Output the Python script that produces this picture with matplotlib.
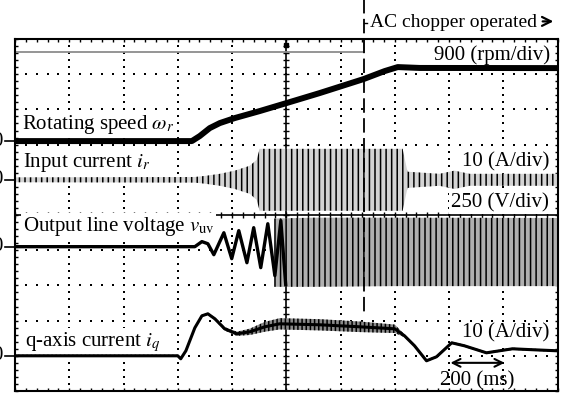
import matplotlib
matplotlib.use('Agg')
import matplotlib.pyplot as plt
import numpy as np

plt.rcParams['font.family'] = ['Liberation Serif', 'DejaVu Serif']
plt.rcParams['mathtext.fontset'] = 'stix'
plt.rcParams['hatch.linewidth'] = 1.1

# channel zero levels (div from centre) and scales (units/div)
speed_zero, speed_scale = 2.1, 900.0   # rpm/div
ir_zero, ir_scale = 1.0, 10.0          # A/div
vuv_zero, vuv_scale = -0.9, 250.0      # V/div
iq_zero, iq_scale = -4.0, 10.0         # A/div

# rotating speed (ms, rpm)
speed_t = [0, 652, 681, 718, 755, 810, 902, 1013, 1123, 1285, 1363, 1411, 1492, 2000]
speed_rpm = [0, 0, 128, 332, 460, 588, 767, 997, 1227, 1585, 1790, 1892, 1870, 1866]

# input current envelope (ms, half amplitude A)
ir_t = [0, 663, 700, 755, 810, 866, 891, 902, 1429, 1447, 1565, 1620, 1676, 2000]
ir_amp = [0.7, 0.8, 1.1, 1.7, 2.6, 4.0, 5.7, 8.8, 8.8, 2.3, 1.7, 2.6, 1.7, 1.7]

# output line voltage, start-up swings (ms, V)
vuv_t = [0, 663, 689, 711, 733, 770, 799, 825, 855, 880, 906, 932, 958, 980, 998]
vuv_v = [0, 0, 36, 21, -57, 99, -85, 114, -114, 135, -149, 163, -206, 185, -270]
# output line voltage, steady band (ms, upper V, lower V)
vband_t = [955, 1100, 1400, 2000]
vband_hi = [200, 206, 206, 204]
vband_lo = [-285, -285, -280, -280]

# q-axis current (ms, A) and ripple half width (A)
iq_t = [0, 600, 611, 630, 663, 689, 711, 737, 773, 818, 866, 921, 976, 1123,
        1271, 1400, 1436, 1473, 1517, 1554, 1610, 1657, 1738, 1834, 1915, 2000]
iq_a = [0, 0, -0.85, 1.42, 7.95, 11.36, 11.93, 10.5, 7.67, 6.25, 6.82, 8.24, 9.09, 8.81,
        8.24, 7.67, 5.68, 2.84, -1.42, -0.28, 3.69, 2.84, 0.85, 1.99, 1.70, 1.42]
iq_rip = [0.3, 0.3, 0.3, 0.3, 0.3, 0.3, 0.3, 0.4, 0.5, 0.6, 0.9, 1.4, 1.6, 1.6,
          1.5, 1.2, 0.4, 0.3, 0.3, 0.3, 0.3, 0.3, 0.3, 0.3, 0.3, 0.3]

chopper_t = 1285
chopper_level = 4.63

fig = plt.figure(figsize=(5.66, 3.93), dpi=100)
ax = fig.add_axes([15 / 566, 2 / 393, 542.5 / 566, 352 / 393])
ax.set_xlim(0, 2000)
ax.set_ylim(-5, 5)

ax.set_xticks(np.arange(0, 2001, 200))
ax.set_xticks(np.arange(0, 2001, 40), minor=True)
ax.set_yticks(np.arange(-5, 6, 1))
ax.set_yticks(np.arange(-5, 5.01, 0.2), minor=True)
ax.tick_params(which='both', direction='in', length=2.5, width=1,
               top=True, right=True, labelbottom=False, labelleft=False)
for s in ax.spines.values():
    s.set_linewidth(1.5)
    s.set_zorder(6)

# dotted grid
gx = np.arange(0, 2001, 40)
gy = np.arange(-5, 5.01, 0.2)
for j in [-4, -3, -2, -1, 1, 2, 3, 4]:
    ax.plot(gx, np.full(len(gx), j), 's', ms=1.6, mew=0, color='k', zorder=1)
for i in [1, 2, 3, 4, 6, 7, 8, 9]:
    ax.plot(np.full(len(gy), 200 * i), gy, 's', ms=1.6, mew=0, color='k', zorder=1)

# centre axes with ticks
ax.axvline(1000, color='k', lw=1.2, zorder=2)
ax.plot(np.full(len(gy), 1000), gy, '_', ms=5, mew=1, color='k', zorder=2)
ax.axhline(0, color='k', lw=1.2, zorder=2)
ax.plot(gx, np.zeros(len(gx)), '|', ms=5, mew=1, color='k', zorder=2)

# chopper signal
ax.plot([0, chopper_t, chopper_t], [chopper_level, chopper_level, 5],
        color='#8c8c8c', lw=1.3, zorder=4)
ax.plot(1000, 4.83, 's', ms=3, color='k', zorder=5)

# rotating speed
ax.plot(speed_t, speed_zero + np.array(speed_rpm) / speed_scale,
        color='k', lw=4.3, zorder=5)

# input current
ir_amp = np.array(ir_amp) / ir_scale
ax.fill_between(ir_t, ir_zero - ir_amp, ir_zero + ir_amp, facecolor='#d4d4d4',
                edgecolor='k', hatch='|||', lw=0, zorder=4)

# output line voltage
ax.plot(vuv_t, vuv_zero + np.array(vuv_v) / vuv_scale, color='k', lw=2.4, zorder=5)
ax.fill_between(vband_t, vuv_zero + np.array(vband_lo) / vuv_scale,
                vuv_zero + np.array(vband_hi) / vuv_scale, facecolor='#b0b0b0',
                edgecolor='k', hatch='|||', lw=0, zorder=4)

# q-axis current
iq_y = iq_zero + np.array(iq_a) / iq_scale
iq_r = np.array(iq_rip) / iq_scale
ax.fill_between(iq_t, iq_y - iq_r, iq_y + iq_r, facecolor='#8a8a8a',
                edgecolor='k', hatch='||||', lw=0, zorder=4)
ax.plot(iq_t, iq_y, color='k', lw=2.2, zorder=5)

# zero markers at the left
for z in [speed_zero, ir_zero, vuv_zero, iq_zero]:
    ax.plot([-37, 0], [z, z], color='k', lw=1.2, clip_on=False)
    ax.text(-44, z, '0', ha='right', va='center', fontsize=15, clip_on=False)

# AC chopper marker
ax.plot([chopper_t, chopper_t], [6.2, -2.76], color='k', lw=1.3,
        dashes=(8, 3), clip_on=False, zorder=5)
ax.plot([chopper_t, chopper_t + 12], [5.45, 5.45], color='k', lw=1, clip_on=False)
ax.text(1308, 5.34, 'AC chopper operated', fontsize=14, va='baseline', clip_on=False)
ax.annotate('', xy=(1995, 5.5), xytext=(1935, 5.5), annotation_clip=False,
            arrowprops=dict(arrowstyle='->', color='k', lw=1.6, mutation_scale=16))

box = dict(facecolor='white', edgecolor='none', pad=1)
fs = 15
ax.text(26, 2.44, r'Rotating speed $\omega_r$', fontsize=fs, va='baseline', bbox=box, zorder=3)
ax.text(29, 1.36, r'Input current $i_r$', fontsize=fs, va='baseline', bbox=box, zorder=3)
ax.text(29, -0.45, r'Output line voltage $v_{\mathrm{uv}}$', fontsize=fs, va='baseline',
        bbox=box, zorder=3)
ax.text(37, -3.72, r'q-axis current $i_q$', fontsize=fs, va='baseline', bbox=box, zorder=3)
ax.text(1971, 4.40, '900 (rpm/div)', fontsize=fs, ha='right', va='baseline', bbox=box, zorder=3)
ax.text(1971, 1.39, '10 (A/div)', fontsize=fs, ha='right', va='baseline', bbox=box, zorder=3)
ax.text(1967, 0.20, '250 (V/div)', fontsize=fs, ha='right', va='baseline', bbox=box, zorder=3)
ax.text(1971, -3.49, '10 (A/div)', fontsize=fs, ha='right', va='baseline', bbox=box, zorder=3)

ax.annotate('', xy=(1595, -4.2), xytext=(1815, -4.2),
            arrowprops=dict(arrowstyle='<->', color='k', lw=1.5, mutation_scale=14))
ax.text(1705, -4.83, '200 (ms)', fontsize=fs, ha='center', va='baseline', zorder=3)

fig.savefig('out.png', dpi=100)
